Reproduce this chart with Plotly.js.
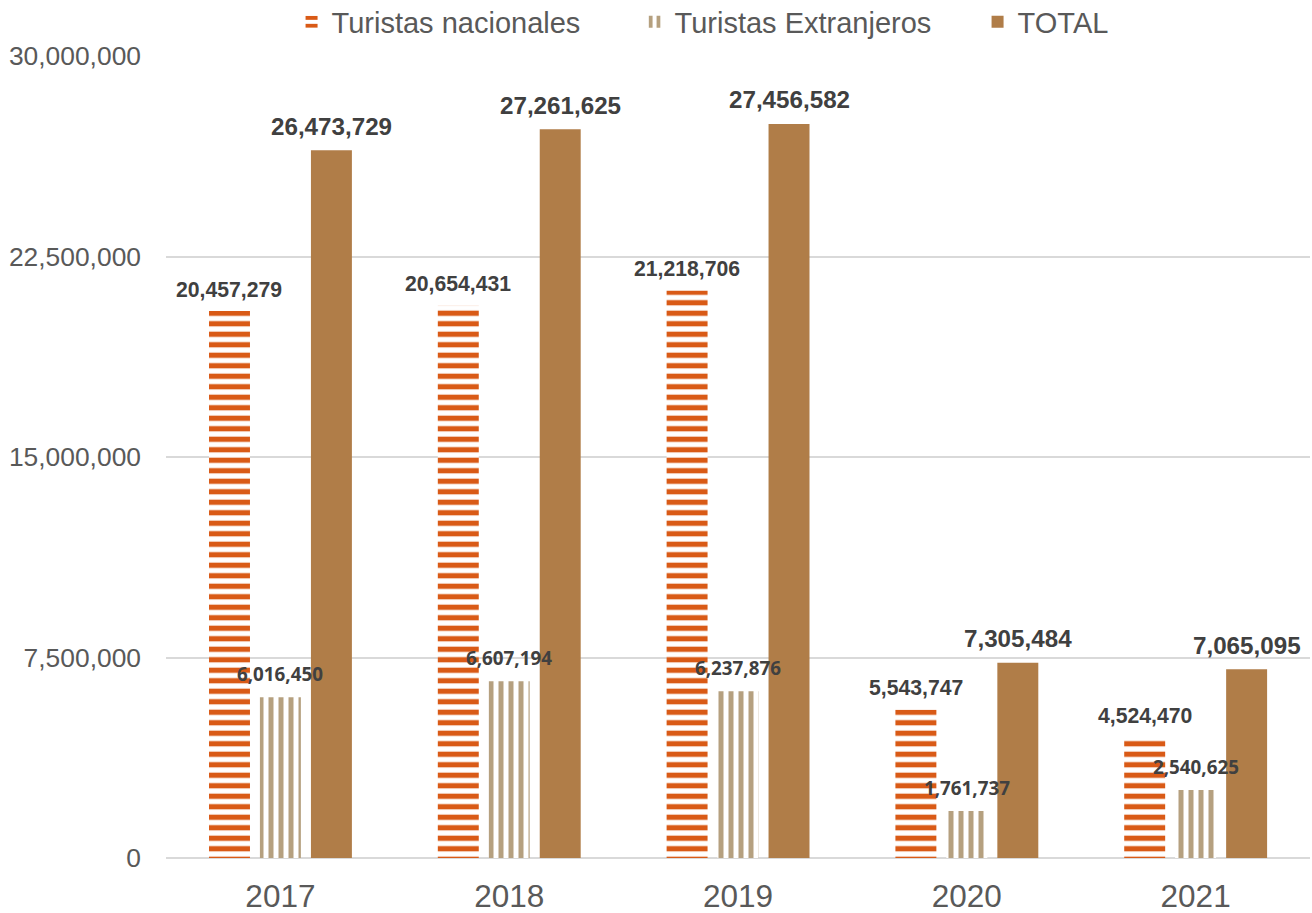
<!DOCTYPE html>
<html>
<head>
<meta charset="utf-8">
<script src="https://cdn.plot.ly/plotly-3.0.1.min.js"></script>
<style>html,body{margin:0;padding:0;background:#fff;}#chart{width:1312px;height:913px;}</style>
</head>
<body>
<div id="chart"></div>
<script>
const years = ['2017', '2018', '2019', '2020', '2021'];
const nacionales = [20457279, 20654431, 21218706, 5543747, 4524470];
const extranjeros = [6016450, 6607194, 6237876, 1761737, 2540625];
const total = [26473729, 27261625, 27456582, 7305484, 7065095];
const seriesNames = ['Turistas nacionales', 'Turistas Extranjeros', 'TOTAL'];
const yTicks = [0, 7500000, 15000000, 22500000, 30000000];

const W = 0.179;
const centers = [-0.2225, 0, 0.223];
const colors = ['#D95A16', '#B5A07F', '#B07D48'];

const traces = [
  {
    type: 'bar', name: seriesNames[0], x: years, y: nacionales,
    width: W, offset: centers[0] - W / 2,
    marker: { color: colors[0], line: { width: 0 },
      pattern: { shape: '-', fillmode: 'replace', fgcolor: colors[0], bgcolor: '#ffffff', size: 10.5, solidity: 0.5 } },
    hoverinfo: 'y'
  },
  {
    type: 'bar', name: seriesNames[1], x: years, y: extranjeros,
    width: W, offset: centers[1] - W / 2,
    marker: { color: colors[1], line: { width: 0 },
      pattern: { shape: '|', fillmode: 'replace', fgcolor: colors[1], bgcolor: '#ffffff', size: 10, solidity: 0.5 } },
    hoverinfo: 'y'
  },
  {
    type: 'bar', name: seriesNames[2], x: years, y: total,
    width: W, offset: centers[2] - W / 2,
    marker: { color: colors[2], line: { width: 0 } },
    hoverinfo: 'y'
  }
];

const fmt = v => v.toLocaleString('en-US');
const annotations = [];
const labelStyles = [
  { family: 'Liberation Sans, Arial, sans-serif', size: 21.2, shift: 22 },
  { family: 'Open Sans, sans-serif', size: 18.8, shift: 23 },
  { family: 'Liberation Sans, Arial, sans-serif', size: 24.2, shift: 24 }
];
[nacionales, extranjeros, total].forEach((arr, s) => {
  arr.forEach((v, i) => {
    annotations.push({
      x: i + centers[s], y: v, xref: 'x', yref: 'y',
      text: '<b>' + fmt(v) + '</b>', showarrow: false,
      yanchor: 'middle', xanchor: 'center', yshift: labelStyles[s].shift,
      font: { family: labelStyles[s].family, size: labelStyles[s].size, color: '#404040' }
    });
  });
});

const layout = {
  width: 1312, height: 913,
  margin: { l: 166, r: 2, t: 56, b: 55, autoexpand: false },
  paper_bgcolor: '#ffffff', plot_bgcolor: '#ffffff',
  barmode: 'overlay',
  showlegend: true,
  legend: {
    orientation: 'h', x: 0.5595, xanchor: 'center', y: 1.0424, yanchor: 'middle',
    yref: 'paper', font: { family: 'Liberation Sans, Arial, sans-serif', size: 29, color: '#595959' },
    traceorder: 'normal', entrywidth: 298, itemwidth: 30
  },
  xaxis: {
    type: 'category', range: [-0.5, 4.5],
    showgrid: false, zeroline: false, showline: false, ticks: '',
    tickfont: { family: 'Liberation Sans, Arial, sans-serif', size: 31.5, color: '#595959' },
    ticklabelstandoff: 16
  },
  yaxis: {
    range: [0, 30000000], tickvals: yTicks, tickformat: ',d',
    showgrid: true, gridcolor: '#D9D9D9', gridwidth: 2,
    zeroline: true, zerolinecolor: '#D9D9D9', zerolinewidth: 2,
    showline: false, ticks: '',
    tickfont: { family: 'Liberation Sans, Arial, sans-serif', size: 26.4, color: '#595959' },
    ticklabelstandoff: 24
  },
  annotations: annotations
};

Plotly.newPlot('chart', traces, layout, { displayModeBar: false, staticPlot: true });
</script>
</body>
</html>
